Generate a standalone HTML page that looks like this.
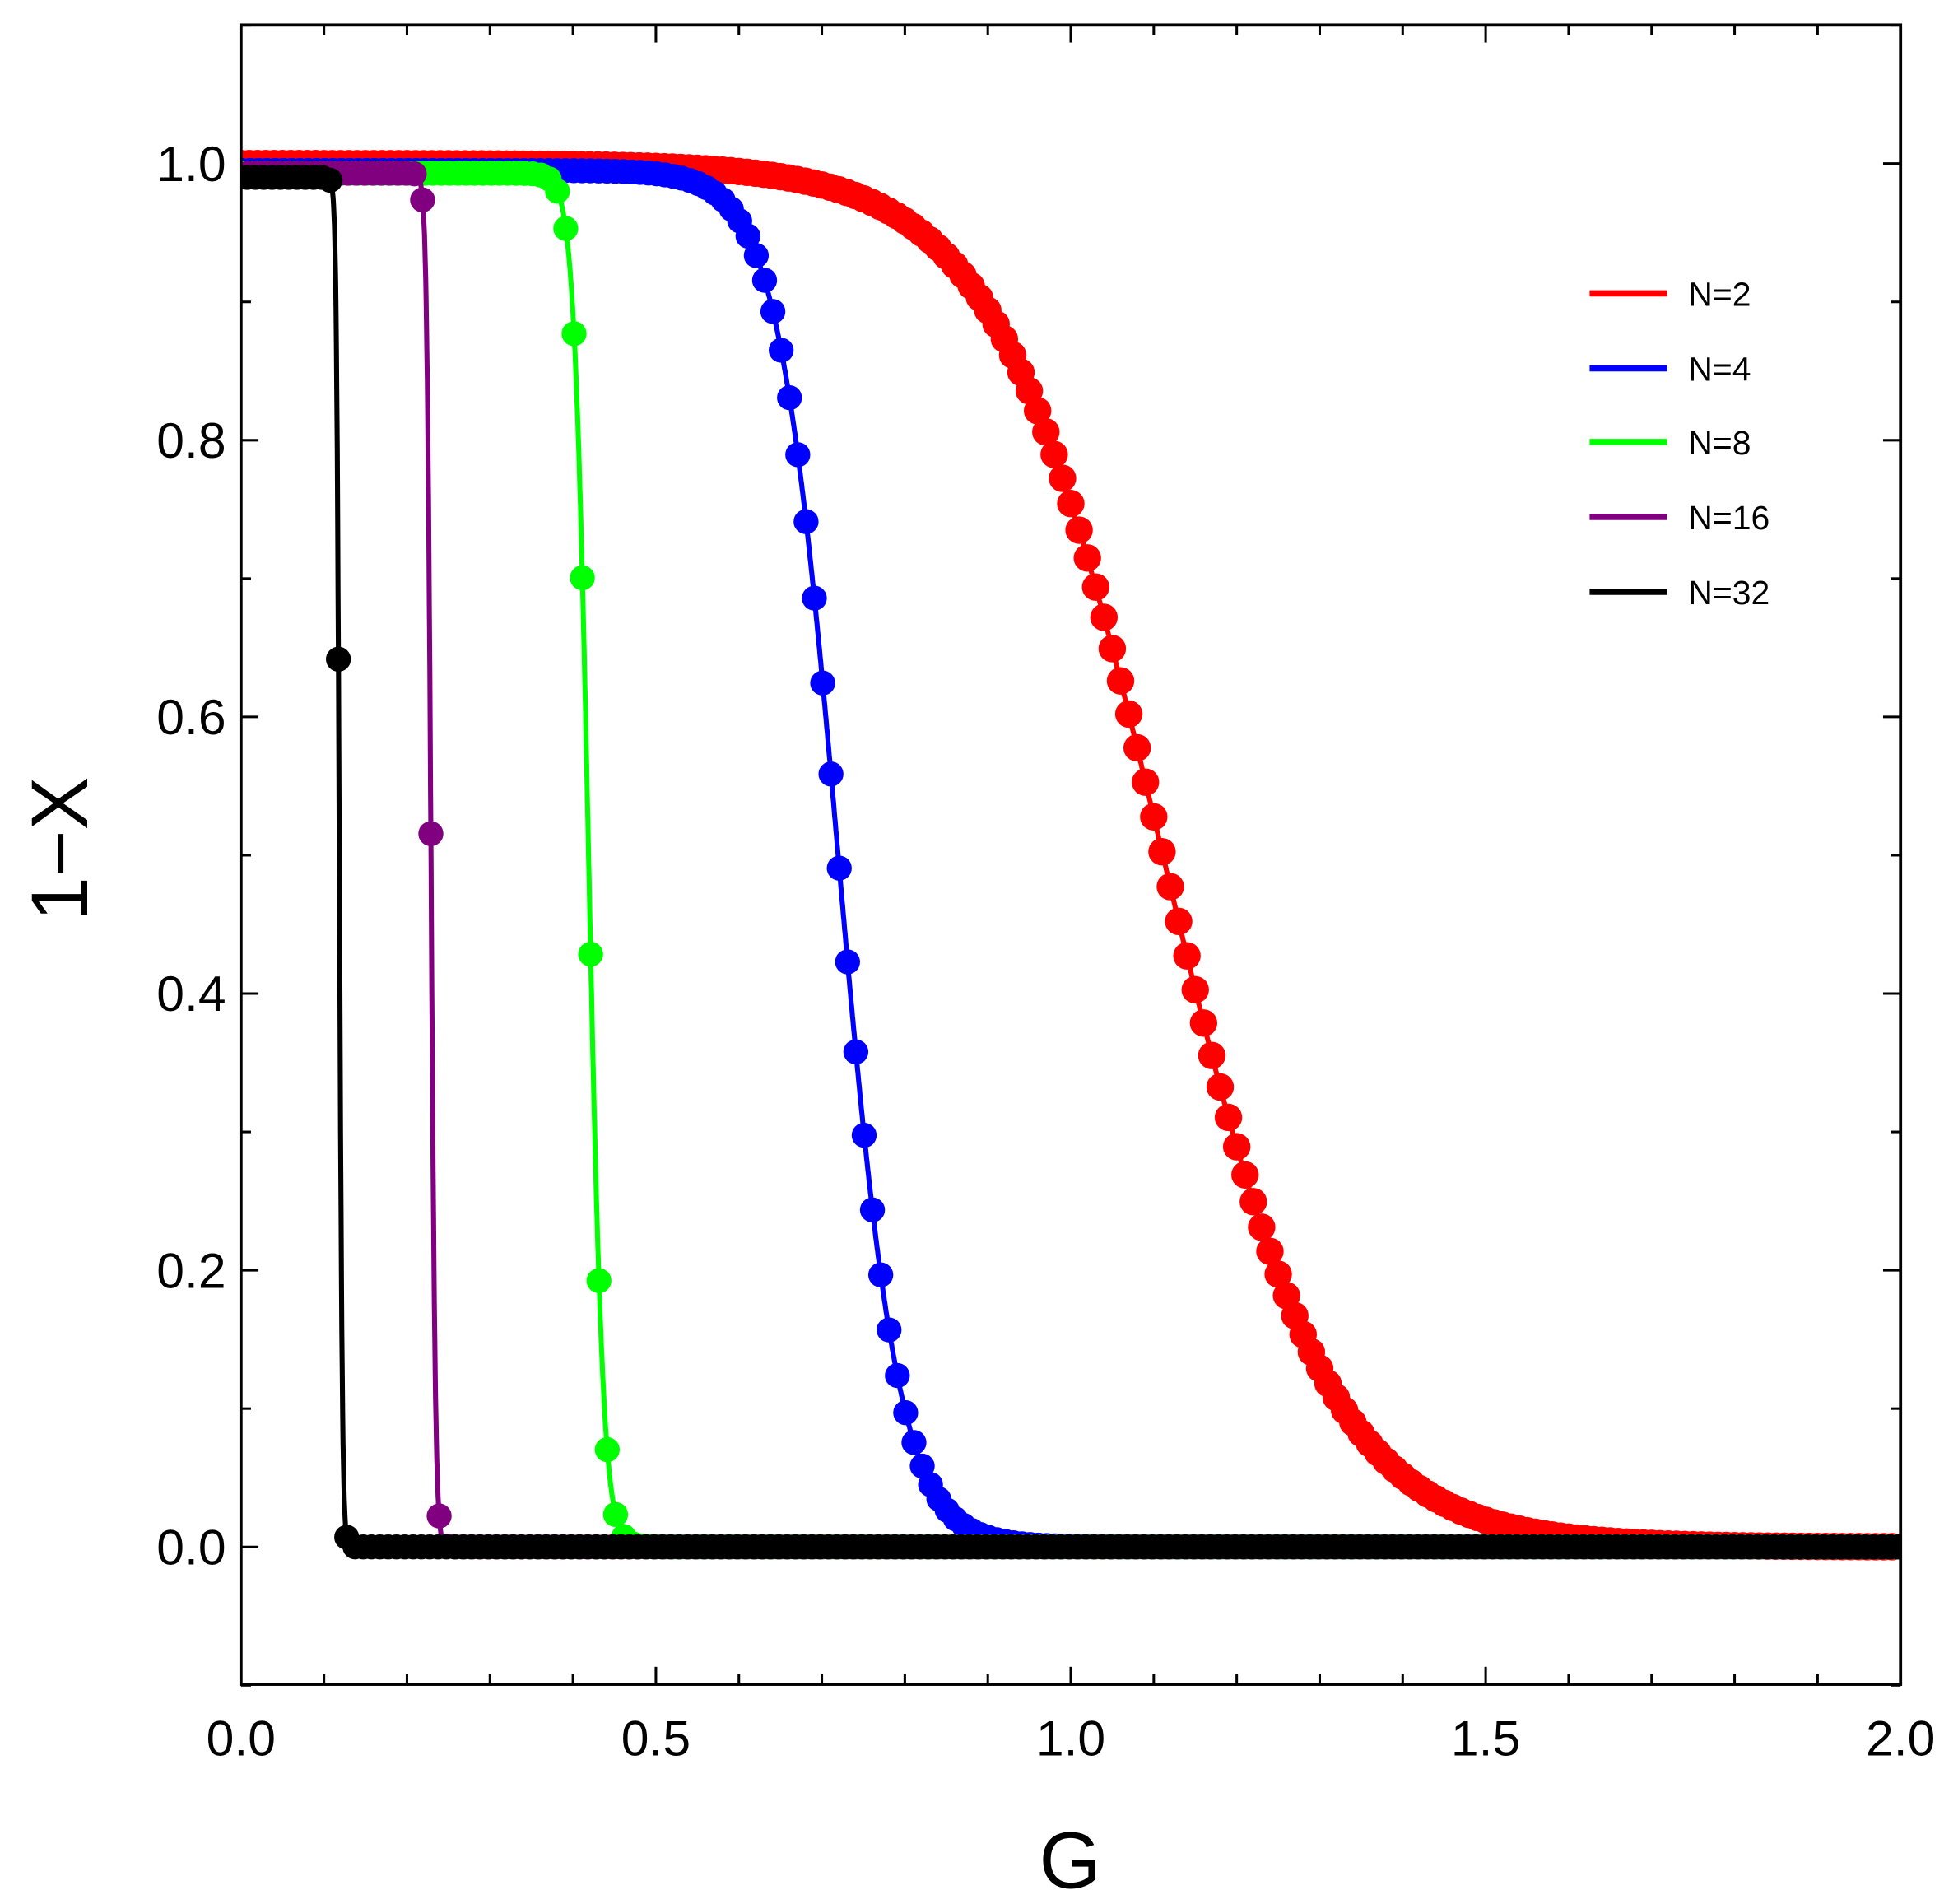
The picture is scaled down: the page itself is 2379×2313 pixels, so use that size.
<!DOCTYPE html>
<html><head><meta charset="utf-8"><style>
html,body{margin:0;padding:0;background:#fff;}
svg{display:block;}
text{font-family:"Liberation Sans",sans-serif;}
</style></head><body>
<svg id="s" width="2379" height="2313" viewBox="0 0 1568 1525" preserveAspectRatio="none" xmlns="http://www.w3.org/2000/svg">
<defs><clipPath id="c"><rect x="193" y="20" width="1329" height="1329"/></clipPath></defs>
<g id="ticks" stroke="#000" stroke-width="2"></g>
<g id="data" clip-path="url(#c)"></g>
<rect x="193" y="20" width="1329" height="1329" fill="none" stroke="#000" stroke-width="2.5"/>
<g id="labels" font-size="40" fill="#000"></g>
<text x="857" y="1512" font-size="64" text-anchor="middle">G</text>
<text transform="translate(70,680) rotate(-90)" font-size="64" text-anchor="middle">1−X</text>
<g stroke-width="5">
<line x1="1273" y1="235" x2="1335" y2="235" stroke="#ff0000"/>
<line x1="1273" y1="295" x2="1335" y2="295" stroke="#0000ff"/>
<line x1="1273" y1="354" x2="1335" y2="354" stroke="#00ff00"/>
<line x1="1273" y1="414" x2="1335" y2="414" stroke="#800080"/>
<line x1="1273" y1="474" x2="1335" y2="474" stroke="#000"/>
</g>
<g font-size="27">
<text x="1352" y="245">N=2</text>
<text x="1352" y="305">N=4</text>
<text x="1352" y="364">N=8</text>
<text x="1352" y="424">N=16</text>
<text x="1352" y="484">N=32</text>
</g>
</svg>
<script>
var NS="http://www.w3.org/2000/svg";
function X(g){return 193+664.5*g;}
function Y(v){return 1239-1108*v;}
function el(p,t,a){var e=document.createElementNS(NS,t);for(var k in a)e.setAttribute(k,a[k]);p.appendChild(e);return e;}
var tk=document.getElementById('ticks'),lb=document.getElementById('labels');
for(var i=0;i<=20;i++){var x=X(i/10),L=(i%5==0)?14:8;
 el(tk,'line',{x1:x,y1:1349,x2:x,y2:1349-L});el(tk,'line',{x1:x,y1:20,x2:x,y2:20+L});
 if(i%5==0){var t=el(lb,'text',{x:x,y:1406,'text-anchor':'middle'});t.textContent=(i/10).toFixed(1);}}
for(var i=-1;i<=11;i++){var y=Y(i/10),L=(i%2==0)?14:8;
 el(tk,'line',{x1:193,y1:y,x2:193+L,y2:y});el(tk,'line',{x1:1522,y1:y,x2:1522-L,y2:y});
 if(i>=0&&i%2==0){var t=el(lb,'text',{x:181,y:y+14,'text-anchor':'end'});t.textContent=(i/10).toFixed(1);}}
var d=document.getElementById('data');
// color, center, scale, radius, linewidth, offset, top value
var S=[["#ff0000",1.111,0.099,11,4,0.0,1.0],["#0000ff",0.72,0.0364,10,4,0.001,0.995],["#00ff00",0.419,0.0087,10,4,0.0014,0.993],["#800080",0.229,0.0026,10,4,0.0088,0.993],["#000000",0.1185,0.0018,10,4,0.0074,0.99]];
S.forEach(function(s){
 var f=function(g){return s[6]/(1+Math.exp((g-s[1])/s[2]));};
 var pts=[];for(var g=0;g<=2.0;g+=0.0005)pts.push(X(g).toFixed(1)+","+Y(f(g)).toFixed(1));
 el(d,'polyline',{points:pts.join(" "),fill:"none",stroke:s[0],'stroke-width':s[4]});
 for(var g=0;g<=2.0;g+=0.01){var gg=g+s[5];el(d,'circle',{cx:X(gg),cy:Y(f(gg)),r:s[3],fill:s[0]});}
});
</script>
</body></html>
